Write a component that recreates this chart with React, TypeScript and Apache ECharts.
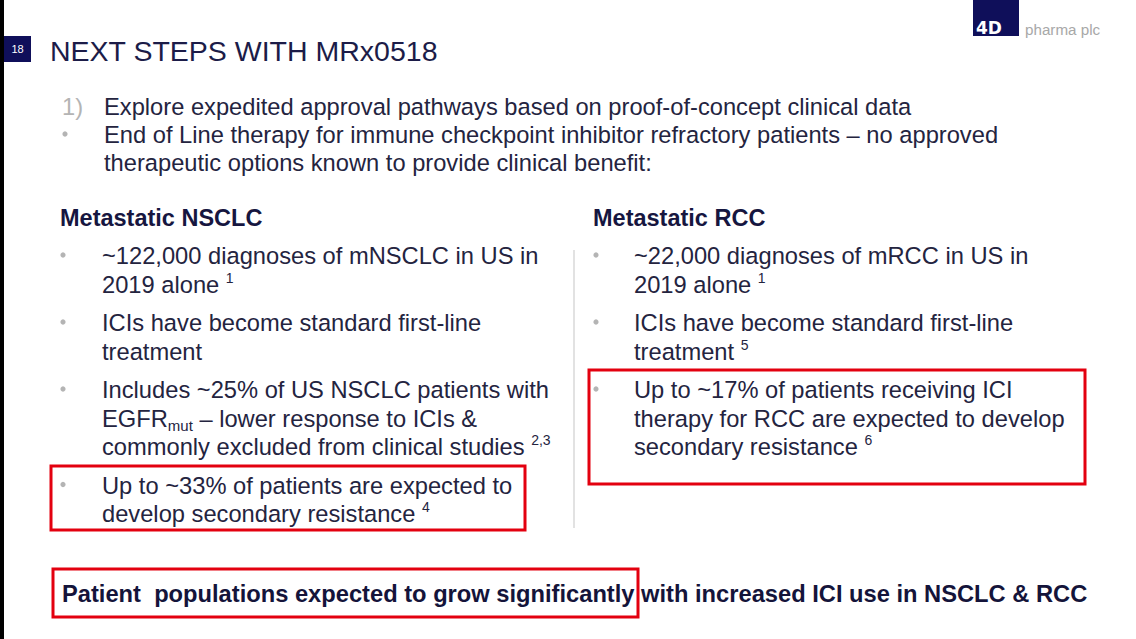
import React, { useEffect, useRef } from "react";
import * as echarts from "echarts";

const slideNumber = "18";
const title = "NEXT STEPS WITH MRx0518";
const logoMark = "4D";
const logoText = "pharma plc";

const introMarkers = ["1)", "•", ""];
const introLines = [
  "Explore expedited approval pathways based on proof-of-concept clinical data",
  "End of Line therapy for immune checkpoint inhibitor refractory patients – no approved",
  "therapeutic options known to provide clinical benefit:",
];

const nsclcHeader = "Metastatic NSCLC";
const nsclcItems: string[][] = [
  ["~122,000 diagnoses of mNSCLC in US in", "2019 alone {sup|1}"],
  ["ICIs have become standard first-line", "treatment"],
  [
    "Includes ~25% of US NSCLC patients with",
    "EGFR{sub|mut} – lower response to ICIs &",
    "commonly excluded from clinical studies {sup|2,3}",
  ],
  ["Up to ~33% of patients are expected to", "develop secondary resistance {sup|4}"],
];

const rccHeader = "Metastatic RCC";
const rccItems: string[][] = [
  ["~22,000 diagnoses of mRCC in US in", "2019 alone {sup|1}"],
  ["ICIs have become standard first-line", "treatment {sup|5}"],
  [
    "Up to ~17% of patients receiving ICI",
    "therapy for RCC are expected to develop",
    "secondary resistance {sup|6}",
  ],
];

const conclusion = "Patient  populations expected to grow significantly with increased ICI use in NSCLC & RCC";

const FONT = "'Liberation Sans', Arial, sans-serif";
const TEXT = "#24243f";
const NAVY = "#0f0f5a";
const GREY_BULLET = "#b4b4b4";
const RED = "#e3000f";
const BODY_SIZE = 23.7;

function richStyle() {
  return {
    sup: { fontSize: 14, lineHeight: 14, verticalAlign: "top", fill: TEXT, fontFamily: FONT },
    sub: { fontSize: 15, lineHeight: 14, verticalAlign: "bottom", fill: TEXT, fontFamily: FONT },
  };
}

function bodyLine(text: string, x: number, y: number): any {
  return {
    type: "text",
    x,
    y,
    style: {
      text,
      fill: TEXT,
      fontSize: BODY_SIZE,
      fontFamily: FONT,
      lineHeight: 28,
      textAlign: "left",
      textVerticalAlign: "middle",
      rich: richStyle(),
    },
  };
}

function bullet(x: number, y: number): any {
  return {
    type: "circle",
    shape: { cx: x, cy: y, r: 2.6 },
    style: { fill: GREY_BULLET },
  };
}

function column(items: string[][], bulletX: number, textX: number, startY: number): any[] {
  const out: any[] = [];
  let y = startY;
  items.forEach((lines) => {
    out.push(bullet(bulletX, y - 1));
    lines.forEach((l, i) => {
      out.push(bodyLine(l, textX, y));
      if (i < lines.length - 1) y += 28.5;
    });
    y += 38.5;
  });
  return out;
}

export default function App() {
  const ref = useRef<HTMLDivElement>(null);
  useEffect(() => {
    if (!ref.current) return;
    const chart = echarts.init(ref.current, undefined, { renderer: "svg" });
    const els: any[] = [];

    // left black edge
    els.push({ type: "rect", shape: { x: 0, y: 0, width: 4, height: 639 }, style: { fill: "#000" } });

    // slide number
    els.push({ type: "rect", shape: { x: 4, y: 36, width: 27, height: 26 }, style: { fill: NAVY } });
    els.push({
      type: "text",
      x: 17.5,
      y: 49,
      style: { text: slideNumber, fill: "#fff", fontSize: 11, fontFamily: FONT, textAlign: "center", textVerticalAlign: "middle" },
    });

    // title
    els.push({
      type: "text",
      x: 50,
      y: 51,
      style: { text: title, fill: "#1c1c48", fontSize: 28.5, fontFamily: FONT, textAlign: "left", textVerticalAlign: "middle" },
    });

    // logo
    els.push({ type: "rect", shape: { x: 973, y: 0, width: 46, height: 36 }, style: { fill: NAVY } });
    els.push({
      type: "text",
      x: 976,
      y: 28,
      style: { text: logoMark, fill: "#fff", fontSize: 17, fontWeight: "bold", fontFamily: "'DejaVu Sans', sans-serif", textAlign: "left", textVerticalAlign: "middle" },
    });
    els.push({
      type: "text",
      x: 1025,
      y: 29,
      style: { text: logoText, fill: "#a8a8a8", fontSize: 15.2, fontFamily: FONT, textAlign: "left", textVerticalAlign: "middle" },
    });

    // intro
    introLines.forEach((l, i) => {
      const y = 107 + i * 28;
      if (introMarkers[i] === "1)") {
        els.push({
          type: "text",
          x: 62,
          y,
          style: { text: introMarkers[i], fill: GREY_BULLET, fontSize: BODY_SIZE, fontFamily: FONT, textAlign: "left", textVerticalAlign: "middle" },
        });
      } else if (introMarkers[i] === "•") {
        els.push(bullet(65, y - 1));
      }
      els.push(bodyLine(l, 104, y));
    });

    // headers
    els.push({
      type: "text",
      x: 60,
      y: 218,
      style: { text: nsclcHeader, fill: "#161640", fontSize: 23.5, fontWeight: "bold", fontFamily: FONT, textAlign: "left", textVerticalAlign: "middle" },
    });
    els.push({
      type: "text",
      x: 593,
      y: 218,
      style: { text: rccHeader, fill: "#161640", fontSize: 23.5, fontWeight: "bold", fontFamily: FONT, textAlign: "left", textVerticalAlign: "middle" },
    });

    els.push(...column(nsclcItems, 63, 102, 256));
    els.push(...column(rccItems, 596, 634, 256));

    // divider
    els.push({ type: "line", shape: { x1: 574, y1: 250, x2: 574, y2: 528 }, style: { stroke: "#e2e2e2", lineWidth: 2 } });

    // red boxes
    const box = (x: number, y: number, w: number, h: number) => ({
      type: "rect",
      shape: { x, y, width: w, height: h },
      style: { fill: "none", stroke: RED, lineWidth: 3 },
    });
    els.push(box(51, 466, 474, 64));
    els.push(box(589, 370, 496, 114));
    els.push(box(53, 569, 585, 48));

    // conclusion
    els.push({
      type: "text",
      x: 62,
      y: 594,
      style: { text: conclusion, fill: "#14143a", fontSize: 23.7, fontWeight: "bold", fontFamily: FONT, textAlign: "left", textVerticalAlign: "middle" },
    });

    chart.setOption({
      animation: false,
      backgroundColor: "#ffffff",
      graphic: { elements: els },
    });
    return () => chart.dispose();
  }, []);
  return <div ref={ref} style={{ position: "fixed", left: 0, top: 0, width: 1136, height: 639 }} />;
}
